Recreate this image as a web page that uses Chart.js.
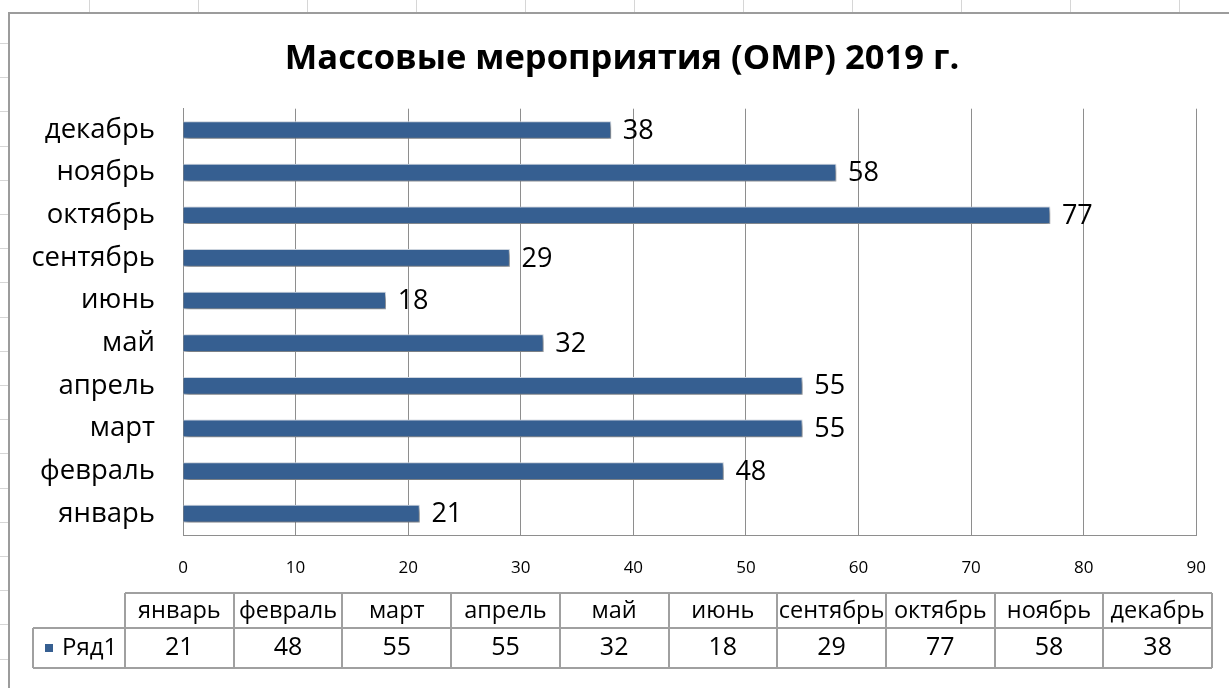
<!DOCTYPE html>
<html lang="ru">
<head>
<meta charset="utf-8">
<title>Массовые мероприятия (ОМР) 2019 г.</title>
<script src="https://cdn.jsdelivr.net/npm/chart.js@4.4.1/dist/chart.umd.min.js"></script>
<style>
  html, body { margin: 0; padding: 0; background: #fff; }
  #wrap { width: 1229px; height: 688px; position: relative; }
</style>
</head>
<body>
<div id="wrap"><canvas id="myChart"></canvas></div>
<script>
// data
const chartTitle = 'Массовые мероприятия (ОМР) 2019 г.';
const seriesName = 'Ряд1';
const months = ['январь', 'февраль', 'март', 'апрель', 'май', 'июнь', 'сентябрь', 'октябрь', 'ноябрь', 'декабрь'];
const counts = [21, 48, 55, 55, 32, 18, 29, 77, 58, 38];
const xMin = 0;
const xMax = 90;
const xStep = 10;

const barColor = '#365f91';
const gridColor = '#8e8e8e';
const fontFamily = "'Open Sans', 'Noto Sans', sans-serif";

Chart.defaults.font.family = fontFamily;
Chart.defaults.color = '#000';

// sheet behind the chart, chart frame and title
const sheetBg = {
  id: 'sheetBg',
  beforeDraw(chart) {
    const ctx = chart.ctx;
    ctx.save();
    ctx.fillStyle = '#fff';
    ctx.fillRect(0, 0, chart.width, chart.height);
    ctx.strokeStyle = '#d6d6d6';
    ctx.lineWidth = 1;
    for (let x = 89.5; x < chart.width; x += 109) {
      ctx.beginPath(); ctx.moveTo(x, 0); ctx.lineTo(x, 12); ctx.stroke();
    }
    for (let y = 43; y < chart.height; y += 34.2) {
      ctx.beginPath(); ctx.moveTo(0, Math.round(y) + 0.5); ctx.lineTo(8, Math.round(y) + 0.5); ctx.stroke();
    }
    ctx.strokeStyle = '#9c9c9c';
    ctx.lineWidth = 2;
    ctx.strokeRect(9, 13, chart.width + 20, chart.height + 20);

    ctx.fillStyle = '#000';
    ctx.font = 'bold 34.5px ' + fontFamily;
    ctx.textAlign = 'center';
    ctx.textBaseline = 'middle';
    ctx.fillText(chartTitle, 622, 59);
    ctx.restore();
  }
};

// excel-like shadow under the bars, value labels after
const barShadow = {
  id: 'barShadow',
  beforeDatasetsDraw(chart) {
    const ctx = chart.ctx;
    ctx.save();
    ctx.shadowColor = 'rgba(0,0,0,0.5)';
    ctx.shadowBlur = 5;
    ctx.shadowOffsetX = 2;
    ctx.shadowOffsetY = 3;
  },
  afterDatasetsDraw(chart) {
    const ctx = chart.ctx;
    ctx.restore();
    ctx.save();
    ctx.font = '27px ' + fontFamily;
    ctx.fillStyle = '#000';
    ctx.textAlign = 'left';
    ctx.textBaseline = 'middle';
    chart.getDatasetMeta(0).data.forEach((bar, i) => {
      ctx.fillText(String(counts[i]), bar.x + 12, bar.y + 1);
    });
    ctx.restore();
  }
};

// data table under the axis
const dataTable = {
  id: 'dataTable',
  afterDraw(chart) {
    const ctx = chart.ctx;
    const left = 125, colW = 108.7;
    const top = 593, mid = 628, bottom = 668;
    const right = left + colW * months.length;
    ctx.save();
    ctx.strokeStyle = '#a0a0a0';
    ctx.lineWidth = 2;
    ctx.beginPath();
    ctx.moveTo(left, top); ctx.lineTo(right, top);
    ctx.moveTo(33, mid); ctx.lineTo(right, mid);
    ctx.moveTo(33, bottom); ctx.lineTo(right, bottom);
    ctx.moveTo(33, mid); ctx.lineTo(33, bottom);
    for (let i = 0; i <= months.length; i++) {
      const x = Math.round(left + colW * i);
      ctx.moveTo(x, top); ctx.lineTo(x, bottom);
    }
    ctx.stroke();

    ctx.fillStyle = '#000';
    ctx.textAlign = 'center';
    ctx.textBaseline = 'middle';
    months.forEach((m, i) => {
      const cx = left + colW * (i + 0.5);
      ctx.font = '23.5px ' + fontFamily;
      ctx.fillText(m, cx, (top + mid) / 2 + 1);
      ctx.font = '25px ' + fontFamily;
      ctx.fillText(String(counts[i]), cx, (mid + bottom) / 2);
    });

    ctx.fillStyle = barColor;
    ctx.fillRect(45, 644, 8, 8);
    ctx.fillStyle = '#000';
    ctx.textAlign = 'left';
    ctx.font = '24px ' + fontFamily;
    ctx.fillText(seriesName, 62, (mid + bottom) / 2);
    ctx.restore();
  }
};

const ctx = document.getElementById('myChart').getContext('2d');
new Chart(ctx, {
  type: 'bar',
  data: {
    labels: months,
    datasets: [{
      label: seriesName,
      data: counts,
      backgroundColor: barColor,
      borderColor: '#d4dce6',
      borderWidth: 1,
      barThickness: 17
    }]
  },
  options: {
    indexAxis: 'y',
    responsive: true,
    maintainAspectRatio: false,
    devicePixelRatio: 1,
    animation: false,
    layout: { padding: { left: 0, right: 29, top: 108.7, bottom: 0 } },
    plugins: {
      legend: { display: false },
      tooltip: { enabled: false },
      title: { display: false }
    },
    scales: {
      x: {
        min: xMin,
        max: xMax,
        ticks: { stepSize: xStep, padding: 23, font: { size: 17 }, color: '#000' },
        grid: { color: gridColor, lineWidth: 1, drawTicks: false },
        border: { display: true, color: gridColor, width: 1 },
        afterFit(scale) { scale.height = 153; }
      },
      y: {
        reverse: true,
        ticks: { padding: 28, font: { size: 27.5 }, color: '#000' },
        grid: { display: false, drawTicks: false },
        border: { display: true, color: gridColor, width: 1 },
        afterFit(scale) { scale.width = 183; }
      }
    }
  },
  plugins: [sheetBg, barShadow, dataTable]
});
</script>
</body>
</html>
